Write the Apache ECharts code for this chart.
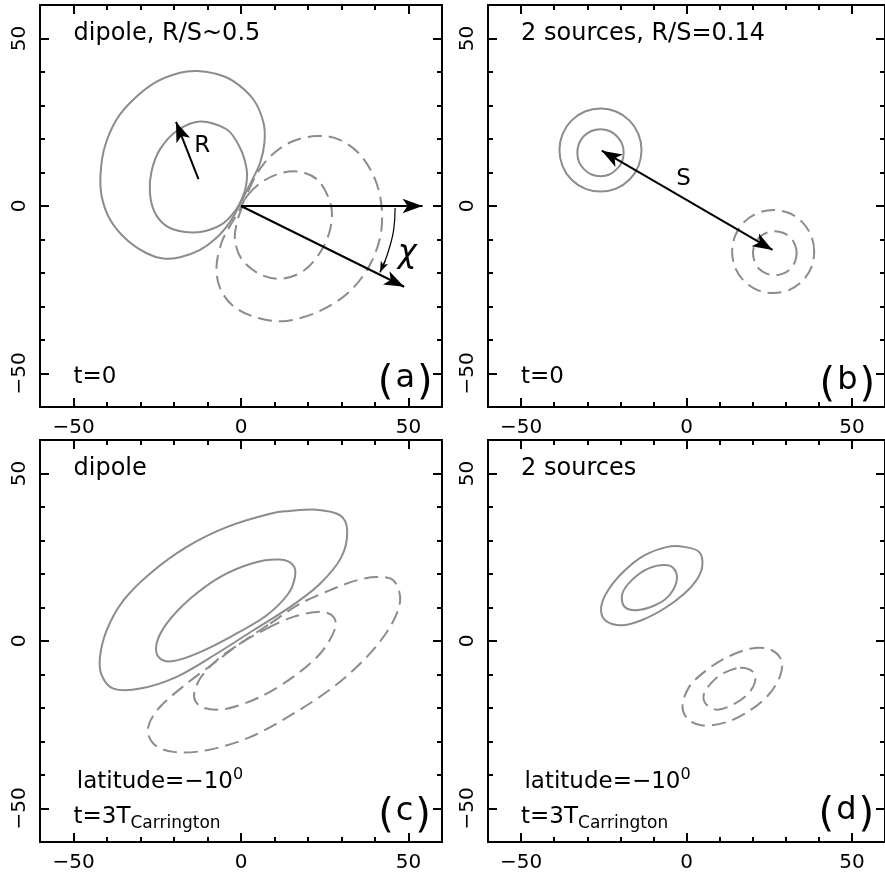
<!DOCTYPE html>
<html>
<head>
<meta charset="utf-8">
<script src="https://cdn.jsdelivr.net/npm/echarts@6/dist/echarts.min.js"></script>
<style>
  html, body { margin: 0; padding: 0; background: #fff; }
  #chart { width: 885px; height: 873px; }
</style>
</head>
<body>
<div id="chart"></div>
<script>
// ---- axis ticks ----
const axisRange = [-60, 60];
const majorTicks = [-50, 0, 50];
const minorTicks = [-40, -30, -20, -10, 10, 20, 30, 40];

// ---- (a) dipole at t=0: contour rings [x, y] ----
const aPosOuter = [[0.9,3.0],[3.2,7.5],[5.7,12.9],[7.0,18.9],[6.7,24.9],[3.7,31.8],[-2.3,37.3],[-8.0,39.6],[-13.2,40.3],[-18.2,39.8],[-25.2,37.1],[-32.1,31.8],[-37.1,25.9],[-40.6,17.9],[-41.9,10.0],[-41.6,3.0],[-39.1,-4.0],[-34.1,-10.1],[-28.2,-14.1],[-23.2,-15.7],[-18.2,-15.3],[-12.2,-13.1],[-7.3,-9.5],[-3.3,-4.8],[-0.8,-0.5]];
const aPosInner = [[0.4,2.5],[1.5,6.0],[1.7,10.9],[-0.3,17.4],[-4.3,22.9],[-12.2,25.2],[-19.2,22.4],[-24.2,16.9],[-26.7,10.4],[-27.2,4.0],[-25.7,-2.0],[-22.2,-6.0],[-17.2,-7.7],[-11.7,-7.7],[-5.8,-5.5],[-1.8,-1.5]];
const aNegOuter = [[2.2,4.5],[5.2,10.4],[9.7,15.7],[15.6,19.4],[22.6,20.9],[29.1,19.9],[35.5,15.4],[40.0,8.0],[42.0,-0.5],[41.5,-9.5],[38.0,-18.4],[32.0,-25.9],[23.6,-31.3],[13.6,-34.3],[4.7,-33.3],[-2.3,-29.9],[-6.3,-24.4],[-7.3,-17.9],[-5.8,-10.9],[-3.3,-6.0],[-0.3,-1.0]];
const aNegInner = [[2.2,3.5],[6.7,7.5],[12.6,10.0],[18.6,10.0],[23.6,7.0],[26.9,0.0],[26.6,-7.0],[23.6,-13.9],[18.6,-19.4],[12.1,-21.7],[5.7,-20.4],[0.2,-15.9],[-1.8,-10.0],[-1.1,-4.5],[0.7,0.5]];
// (a) arrows: radius R, reference direction, tilted axis; and the chi arc
const aArrows = [[[-12.7,8.0],[-19.4,25.1]], [[0,0],[54.2,0]], [[0,0],[48.7,-24.1]]];
const aChiArc = [[46.0,-0.6],[45.6,-6.9],[44.5,-11.8],[43.0,-16.4],[41.5,-19.8]];

// ---- (b) two sources at t=0 ----
const bPosOuter = [[-13.6,16.7],[-14.5,21.4],[-17.2,25.5],[-21.3,28.2],[-26.0,29.1],[-30.7,28.2],[-34.8,25.5],[-37.5,21.4],[-38.4,16.7],[-37.5,12.0],[-34.8,7.9],[-30.7,5.2],[-26.0,4.3],[-21.3,5.2],[-17.2,7.9],[-14.5,12.0]];
const bPosInner = [[-19.0,15.9],[-19.5,18.6],[-21.1,20.9],[-23.3,22.4],[-26.0,22.9],[-28.7,22.4],[-31.0,20.9],[-32.5,18.6],[-33.0,15.9],[-32.5,13.2],[-31.0,11.0],[-28.7,9.4],[-26.0,8.9],[-23.3,9.4],[-21.1,11.0],[-19.5,13.2]];
const bNegOuter = [[38.6,-13.6],[37.7,-8.9],[35.0,-4.8],[31.0,-2.1],[26.2,-1.2],[21.5,-2.1],[17.4,-4.8],[14.7,-8.9],[13.8,-13.6],[14.7,-18.4],[17.4,-22.4],[21.5,-25.1],[26.2,-26.0],[31.0,-25.1],[35.0,-22.4],[37.7,-18.4]];
const bNegInner = [[33.3,-14.1],[32.8,-11.6],[31.4,-9.4],[29.2,-8.0],[26.7,-7.5],[24.2,-8.0],[22.0,-9.4],[20.6,-11.6],[20.1,-14.1],[20.6,-16.6],[22.0,-18.8],[24.2,-20.2],[26.7,-20.7],[29.2,-20.2],[31.4,-18.8],[32.8,-16.6]];
// (b) separation S between the two sources
const bArrows = [[[-25.6,16.5],[26.0,-13.1]]];

// ---- (c) dipole after three Carrington rotations ----
const cPosOuter = [[3.7,3.2],[14.6,10.1],[23.6,17.1],[30.0,25.1],[31.7,33.0],[29.6,37.5],[22.6,39.2],[14.6,38.8],[8.7,38.0],[-4.3,34.0],[-16.2,28.1],[-27.2,20.1],[-35.1,12.1],[-40.1,3.2],[-42.1,-4.8],[-41.6,-10.2],[-38.1,-14.2],[-30.1,-14.2],[-19.2,-10.7],[-7.3,-3.8]];
const cPosInner = [[7.7,7.7],[14.1,14.1],[16.1,19.1],[15.6,22.6],[11.6,24.3],[3.7,23.3],[-6.3,19.1],[-15.2,12.6],[-22.2,5.2],[-25.2,-0.8],[-24.4,-5.0],[-20.2,-6.0],[-12.2,-3.3],[-2.3,1.7]];
const cNegOuter = [[8.7,5.2],[17.6,11.1],[27.6,15.6],[34.5,18.1],[40.5,19.1],[45.5,18.1],[47.5,12.1],[44.5,4.2],[37.5,-4.8],[27.6,-13.7],[15.6,-21.7],[2.7,-28.7],[-10.2,-32.6],[-20.2,-33.1],[-26.2,-30.6],[-27.7,-25.7],[-24.2,-19.7],[-16.2,-12.7],[-8.3,-6.8],[-0.3,-0.8]];
const cNegInner = [[7.7,3.7],[15.6,7.2],[23.6,8.7],[27.6,7.2],[27.9,3.2],[23.6,-3.8],[15.6,-10.7],[5.7,-16.7],[-4.3,-20.2],[-11.2,-19.9],[-14.0,-16.7],[-12.2,-11.2],[-7.3,-5.8],[-0.3,-0.8]];

// ---- (d) two sources after three Carrington rotations ----
const dPosOuter = [[-0.7,28.1],[3.8,26.6],[4.8,22.6],[3.3,18.6],[-0.7,14.1],[-6.7,9.7],[-13.6,6.2],[-19.6,4.7],[-24.6,6.2],[-25.8,10.1],[-23.6,15.3],[-18.6,21.1],[-12.6,25.6],[-5.7,28.1]];
const dPosInner = [[-5.7,22.6],[-3.2,20.6],[-3.2,17.1],[-5.7,13.1],[-9.7,10.6],[-15.1,9.2],[-18.8,10.3],[-19.4,14.1],[-16.6,18.1],[-11.6,21.6]];
const dNegOuter = [[19.2,-2.3],[25.2,-2.5],[28.7,-5.8],[28.2,-10.7],[24.7,-16.2],[19.2,-20.7],[12.2,-24.2],[4.8,-25.2],[0.3,-23.2],[-1.2,-19.2],[0.8,-13.7],[5.3,-9.3],[11.7,-5.1]];
const dNegInner = [[16.2,-8.0],[20.2,-9.3],[20.7,-12.2],[18.7,-15.7],[14.2,-18.9],[9.3,-20.5],[5.8,-18.7],[5.3,-15.7],[7.8,-12.2],[11.2,-9.6]];

// ---- panel texts ----
const panelTitles = ['dipole, R/S~0.5', '2 sources, R/S=0.14', 'dipole', '2 sources'];
const panelLetters = ['a', 'b', 'c', 'd'];

// ---- styling / layout ----
const FONT = 'DejaVu Sans';
const GRAY = '#8c8c8c';
const INK = '#000';
const DASH = [14, 7];

const gridBoxes = [
  { left: 40,  top: 5,   width: 402, height: 402 },
  { left: 488, top: 5,   width: 402, height: 402 },
  { left: 40,  top: 440, width: 402, height: 402 },
  { left: 488, top: 440, width: 402, height: 402 }
];

const minus = v => (v < 0 ? '\u2212' + Math.abs(v) : String(v));

function tickAxis(g, position, values, len, withLabels, isY) {
  const ax = {
    gridIndex: g, type: 'value', position: position,
    min: axisRange[0], max: axisRange[1],
    axisLine: { show: false, onZero: false },
    splitLine: { show: false },
    axisTick: { show: true, inside: true, length: len, customValues: values,
                lineStyle: { color: INK, width: 2 } },
    axisLabel: { show: false }
  };
  if (withLabels) {
    ax.axisLabel = {
      show: true, customValues: majorTicks, formatter: minus,
      color: INK, fontFamily: FONT, fontSize: 20,
      margin: isY ? 10 : 11, rotate: isY ? 90 : 0
    };
  }
  return ax;
}

const xAxes = [], yAxes = [];
gridBoxes.forEach((box, g) => {
  xAxes.push(tickAxis(g, 'bottom', majorTicks, 9, true, false));
  xAxes.push(tickAxis(g, 'bottom', minorTicks, 5, false, false));
  xAxes.push(tickAxis(g, 'top', majorTicks, 9, false, false));
  xAxes.push(tickAxis(g, 'top', minorTicks, 5, false, false));
  yAxes.push(tickAxis(g, 'left', majorTicks, 9, true, true));
  yAxes.push(tickAxis(g, 'left', minorTicks, 5, false, true));
  yAxes.push(tickAxis(g, 'right', majorTicks, 9, false, true));
  yAxes.push(tickAxis(g, 'right', minorTicks, 5, false, true));
});

// Closed Catmull-Rom curve through pixel points, as SVG path data.
function ringPath(px) {
  const n = px.length;
  const f = v => v.toFixed(2);
  let d = 'M' + f(px[0][0]) + ',' + f(px[0][1]);
  for (let i = 0; i < n; i++) {
    const p0 = px[(i - 1 + n) % n], p1 = px[i], p2 = px[(i + 1) % n], p3 = px[(i + 2) % n];
    const c1x = p1[0] + (p2[0] - p0[0]) / 6, c1y = p1[1] + (p2[1] - p0[1]) / 6;
    const c2x = p2[0] - (p3[0] - p1[0]) / 6, c2y = p2[1] - (p3[1] - p1[1]) / 6;
    d += 'C' + f(c1x) + ',' + f(c1y) + ',' + f(c2x) + ',' + f(c2y) + ',' + f(p2[0]) + ',' + f(p2[1]);
  }
  return d + 'Z';
}

// One contour level: a closed ring placed through the panel's axes.
function contour(g, ring, dashed) {
  return {
    type: 'custom', xAxisIndex: g * 4, yAxisIndex: g * 4,
    data: ring, silent: true, animation: false,
    renderItem: function (params, api) {
      if (params.dataIndex !== 0) return null;
      const px = ring.map(p => api.coord(p));
      return {
        type: 'path',
        shape: { pathData: ringPath(px) },
        style: { fill: 'none', stroke: GRAY, lineWidth: 2, lineDash: dashed ? DASH : null }
      };
    }
  };
}

function arrowMarks(pairs, both, size, width) {
  return {
    silent: true, animation: false,
    symbol: both ? ['arrow', 'arrow'] : ['none', 'arrow'],
    symbolSize: size,
    lineStyle: { color: INK, width: width, type: 'solid' },
    itemStyle: { color: INK },
    label: { show: false },
    emphasis: { disabled: true },
    data: pairs.map(p => [{ coord: p[0] }, { coord: p[1] }])
  };
}

// Invisible carrier line holding the arrow marks of a panel
function arrowSeries(g, pairs, both) {
  return {
    type: 'line', xAxisIndex: g * 4, yAxisIndex: g * 4,
    data: pairs.map(p => p[0]), showSymbol: false, symbol: 'none',
    silent: true, animation: false,
    lineStyle: { opacity: 0 },
    markLine: arrowMarks(pairs, both, [11, 20], 2)
  };
}

const rich = {
  m:   { fontSize: 23, lineHeight: 30, fill: INK, fontFamily: FONT },
  sup: { fontSize: 16, lineHeight: 14, verticalAlign: 'top', fill: INK, fontFamily: FONT },
  sub: { fontSize: 17, lineHeight: 14, verticalAlign: 'bottom', fill: INK, fontFamily: FONT },
  par: { fontSize: 40, lineHeight: 44, verticalAlign: 'middle', fill: INK, fontFamily: FONT, padding: [10, 0, 0, 0] },
  tag: { fontSize: 32, lineHeight: 44, verticalAlign: 'middle', fill: INK, fontFamily: FONT, padding: [0, 2, 0, 2] }
};

const tagText = letter => '{par|(}{tag|' + letter + '}{par|)}';

function note(value, text, style) {
  return { value: value, text: text, style: style || {} };
}

// Panel annotations, anchored in data coordinates
function notesSeries(g, items) {
  return {
    type: 'custom', xAxisIndex: g * 4, yAxisIndex: g * 4,
    data: items.map(it => it.value), silent: true, animation: false,
    renderItem: function (params, api) {
      const it = items[params.dataIndex];
      const p = api.coord(it.value);
      return {
        type: 'text', x: p[0], y: p[1],
        style: Object.assign({
          text: it.text, fill: INK, fontFamily: FONT, fontSize: 23,
          align: 'left', verticalAlign: 'middle', rich: rich
        }, it.style)
      };
    }
  };
}

const series = [];
// (a)
series.push(contour(0, aPosOuter, false));
series.push(contour(0, aPosInner, false));
series.push(contour(0, aNegOuter, true));
series.push(contour(0, aNegInner, true));
series.push(arrowSeries(0, aArrows, false));
series.push({
  type: 'line', xAxisIndex: 0, yAxisIndex: 0, data: aChiArc, smooth: true,
  showSymbol: false, symbol: 'none', silent: true, animation: false,
  lineStyle: { color: INK, width: 1.2 },
  markLine: arrowMarks([[aChiArc[aChiArc.length - 2], aChiArc[aChiArc.length - 1]]], false, [6, 11], 1.2)
});
series.push(notesSeries(0, [
  note([-50, 51.4], panelTitles[0], { fontSize: 24 }),
  note([-50, -51], 't=0'),
  note([57.2, -51.6], tagText(panelLetters[0]), { align: 'right' }),
  note([-11.6, 17.9], 'R', { align: 'center' }),
  note([49.6, -14.3], '\u03c7', { align: 'center', fontSize: 32, fontStyle: 'italic' })
]));
// (b)
series.push(contour(1, bPosOuter, false));
series.push(contour(1, bPosInner, false));
series.push(contour(1, bNegOuter, true));
series.push(contour(1, bNegInner, true));
series.push(arrowSeries(1, bArrows, true));
series.push(notesSeries(1, [
  note([-50, 51.4], panelTitles[1], { fontSize: 24 }),
  note([-50, -51], 't=0'),
  note([57.0, -52.0], tagText(panelLetters[1]), { align: 'right' }),
  note([-0.9, 8.1], 'S', { align: 'center' })
]));
// (c) and (d)
[[2, cPosOuter, cPosInner, cNegOuter, cNegInner, -50.9], [3, dPosOuter, dPosInner, dNegOuter, dNegInner, -50.6]].forEach(row => {
  const g = row[0];
  series.push(contour(g, row[1], false));
  series.push(contour(g, row[2], false));
  series.push(contour(g, row[3], true));
  series.push(contour(g, row[4], true));
  series.push(notesSeries(g, [
    note([-50, 51.4], panelTitles[g], { fontSize: 24 }),
    note([-49, -42.1], '{m|latitude=\u221210}{sup|0}'),
    note([-50, -52.5], '{m|t=3T}{sub|Carrington}'),
    note([56.7, row[5]], tagText(panelLetters[g]), { align: 'right' })
  ]));
});

const chart = echarts.init(document.getElementById('chart'), null, { renderer: 'canvas' });
chart.setOption({
  backgroundColor: '#fff',
  animation: false,
  grid: gridBoxes.map(b => Object.assign({ show: true, borderColor: INK, borderWidth: 2, backgroundColor: 'transparent' }, b)),
  xAxis: xAxes,
  yAxis: yAxes,
  series: series
});
</script>
</body>
</html>
